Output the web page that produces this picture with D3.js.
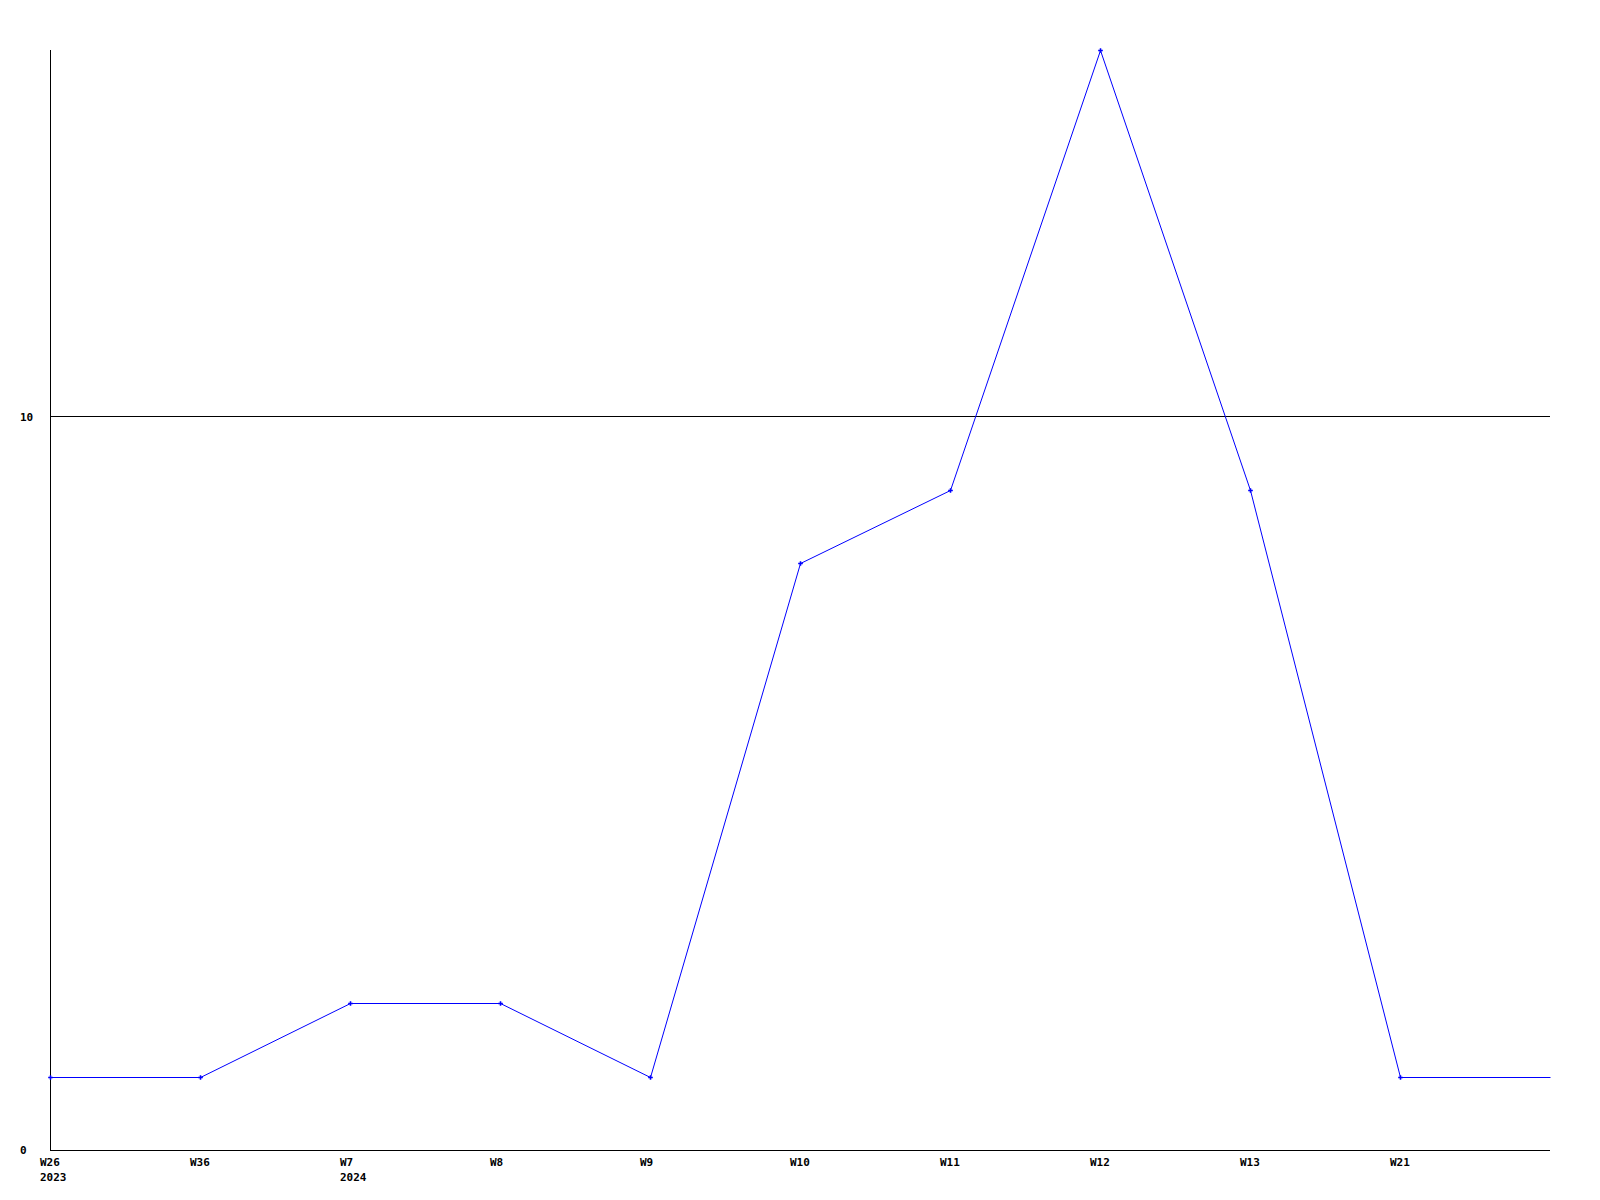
<!DOCTYPE html>
<html><head><meta charset="utf-8">
<script src="https://cdn.jsdelivr.net/npm/d3@7"></script>
<style>
html,body{margin:0;padding:0;background:#fff;}
text{font-family:"DejaVu Sans Mono",monospace;font-weight:bold;font-size:11px;fill:#000;}
</style></head>
<body><svg id="c" width="1600" height="1200"></svg>
<script>
const weeks = ["W26","W36","W7","W8","W9","W10","W11","W12","W13","W21"];
const years = ["2023","","2024","","","","","","",""];
const values = [1,1,2,2,1,8,9,15,9,1];
const yTicks = [0,10];

const svg = d3.select("#c");
const x = d3.scaleLinear().domain([0,10]).range([50,1550]);
const y = d3.scaleLinear().domain([0,15]).range([1150,50]);
const ry = d => Math.round(y(d)) + 0.5;

// gridline at 10
svg.append("g").selectAll("line").data(yTicks.filter(d=>d>0)).join("line")
  .attr("x1",x(0)).attr("x2",x(10)).attr("y1",d=>ry(d)-1).attr("y2",d=>ry(d)-1)
  .attr("stroke","#000").attr("stroke-width",1).attr("shape-rendering","crispEdges");

// axes lines
svg.append("line").attr("x1",x(0)).attr("x2",x(10)).attr("y1",ry(0)).attr("y2",ry(0))
  .attr("stroke","#000").attr("shape-rendering","crispEdges");
svg.append("line").attr("x1",x(0)+0.5).attr("x2",x(0)+0.5).attr("y1",y(15)).attr("y2",y(0))
  .attr("stroke","#000").attr("shape-rendering","crispEdges");

// y labels
svg.append("g").selectAll("text").data(yTicks).join("text")
  .attr("x",20).attr("y",d=>y(d)+4).text(d=>d);

// x labels
const xl = svg.append("g");
xl.selectAll("text.w").data(weeks).join("text").attr("class","w")
  .attr("x",(d,i)=>x(i)-10).attr("y",1166).text(d=>d);
xl.selectAll("text.y").data(years).join("text").attr("class","y")
  .attr("x",(d,i)=>x(i)-10).attr("y",1181).text(d=>d);

// line (extends final value to right edge)
const pts = values.map((v,i)=>[i,v]).concat([[10, values[values.length-1]]]);
svg.append("path").datum(pts)
  .attr("d", d3.line().x(d=>x(d[0])+0.5).y(d=>ry(d[1])))
  .attr("fill","none").attr("stroke","#0000ff").attr("stroke-width",1);

// markers
svg.append("g").selectAll("path").data(values).join("path")
  .attr("transform",(d,i)=>`translate(${x(i)+0.5},${ry(d)})`)
  .attr("d", d3.symbol(d3.symbolCross, 12))
  .attr("fill","#0000ff");
</script></body></html>
